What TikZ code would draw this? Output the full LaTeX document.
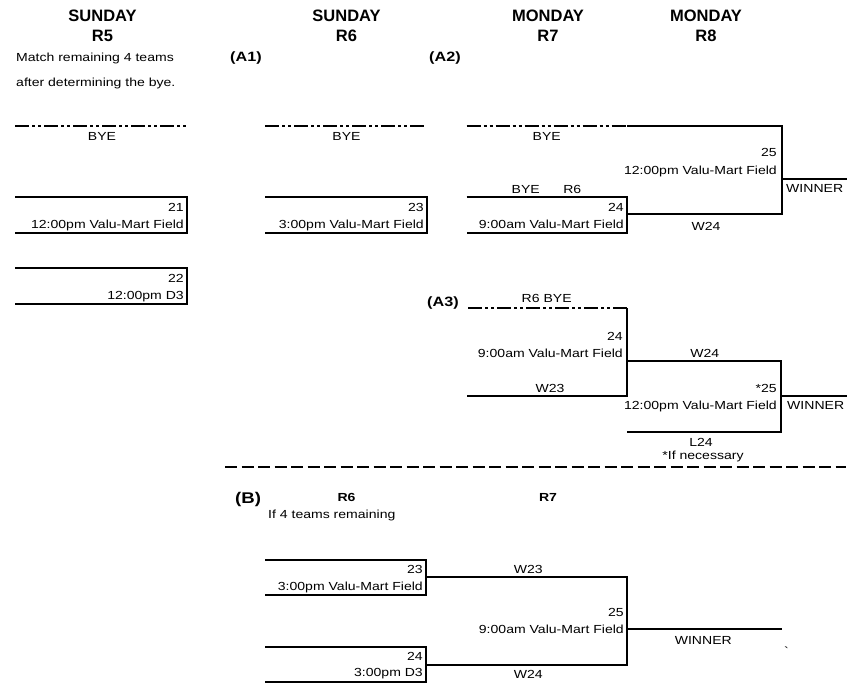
\documentclass[tikz,border=0pt]{standalone}
\usepackage{fontspec}
\setmainfont{Liberation Sans}
\newfontfamily\wide[FakeStretch=1.2]{Liberation Sans}
\begin{document}
\begin{tikzpicture}[x=1pt,y=-1pt]
\tikzset{
  ln/.style={line width=2.1pt},
  dd/.style={line width=2.1pt, dash pattern=on 14pt off 3pt on 3pt off 3pt on 3pt off 3pt},
  sepline/.style={line width=2.1pt, dash pattern=on 12pt off 4.5pt},
  txt/.style={font={\wide\fontsize{11.7}{14}\selectfont}, inner sep=0pt, anchor=base},
  rt/.style={txt, anchor=base east},
  lt/.style={txt, anchor=base west},
  hdr/.style={font={\bfseries\fontsize{16.5}{18}\selectfont}, inner sep=0pt, anchor=base},
  sec/.style={font={\wide\bfseries\fontsize{13.5}{16}\selectfont}, inner sep=0pt, anchor=base west},
  secb/.style={font={\wide\bfseries\fontsize{15.5}{18}\selectfont}, inner sep=0pt, anchor=base west},
  rnd/.style={font={\wide\bfseries\fontsize{11.7}{14}\selectfont}, inner sep=0pt, anchor=base},
}
\useasboundingbox (0,0) rectangle (857,683);

% ---------- headers ----------
\node[hdr] (h1a) at (102.5,21.7) {SUNDAY};
\node[hdr] (h1b) at (102.5,41.7) {R5};
\node[hdr] (h2a) at (346.5,21.7) {SUNDAY};
\node[hdr] (h2b) at (346.5,41.7) {R6};
\node[hdr] (h3a) at (548,21.7) {MONDAY};
\node[hdr] (h3b) at (548,41.7) {R7};
\node[hdr] (h4a) at (706,21.7) {MONDAY};
\node[hdr] (h4b) at (706,41.7) {R8};
\node[lt] (n1) at (16,61.7) {Match remaining 4 teams};
\node[lt] (n2) at (16,86) {after determining the bye.};
\node[sec] (a1) at (230,61) {(A1)};
\node[sec] (a2) at (429,61) {(A2)};

% ---------- R5 ----------
\coordinate (r5yL) at (15,126);   \coordinate (r5yR) at (187,126);
\draw[dd] (r5yL) -- (r5yR);
\node[txt] (r5bye) at (102,140.7) {BYE};
\coordinate (b21a) at (15,197.3); \coordinate (b21b) at (187,197.3);
\coordinate (b21c) at (187,232.7); \coordinate (b21d) at (15,232.7);
\draw[ln] (b21a) -- (b21b) -- (b21c) -- (b21d);
\node[rt] (t21n) at (184,211.7) {21};
\node[rt] (t21t) at (184,228.7) {12:00pm Valu-Mart Field};
\coordinate (b22a) at (15,268.3); \coordinate (b22b) at (187,268.3);
\coordinate (b22c) at (187,303.7); \coordinate (b22d) at (15,303.7);
\draw[ln] (b22a) -- (b22b) -- (b22c) -- (b22d);
\node[rt] (t22n) at (184,282.7) {22};
\node[rt] (t22t) at (184,299.7) {12:00pm D3};

% ---------- R6 (A1) ----------
\coordinate (r6yL) at (265,126);  \coordinate (r6yR) at (424,126);
\draw[dd] (r6yL) -- (r6yR);
\node[txt] (r6bye) at (346.5,140.7) {BYE};
\coordinate (b23a) at (265,197.3); \coordinate (b23b) at (427,197.3);
\coordinate (b23c) at (427,232.7); \coordinate (b23d) at (265,232.7);
\draw[ln] (b23a) -- (b23b) -- (b23c) -- (b23d);
\node[rt] (t23n) at (424,211.7) {23};
\node[rt] (t23t) at (424,228.7) {3:00pm Valu-Mart Field};

% ---------- (A2) ----------
\coordinate (a2yL) at (466.7,126); \coordinate (a2yM) at (627,126);
\coordinate (a2yR) at (782,126);   \coordinate (a2v) at (782,214.3);
\coordinate (a2w) at (627,214.3);
\draw[dd] (a2yL) -- (a2yM);
\draw[ln] (a2yM) -- (a2yR) -- (a2v) -- (a2w);
\coordinate (b24a) at (466.7,197.3); \coordinate (b24b) at (627,197.3);
\coordinate (b24c) at (627,232.7);   \coordinate (b24d) at (466.7,232.7);
\draw[ln] (b24a) -- (b24b) -- (b24c) -- (b24d);
\coordinate (a2wL) at (782,179); \coordinate (a2wR) at (847,179);
\draw[ln] (a2wL) -- (a2wR);
\node[txt] (a2bye) at (546.7,140.7) {BYE};
\node[txt] (a2byer6) at (546.5,193.3) {BYE\hspace{23.5pt}R6};
\node[rt] (a2t24n) at (624,211.7) {24};
\node[rt] (a2t24t) at (624,228.7) {9:00am Valu-Mart Field};
\node[rt] (a2t25n) at (777,156) {25};
\node[rt] (a2t25t) at (777,174) {12:00pm Valu-Mart Field};
\node[lt] (a2win) at (786,192.7) {WINNER};
\node[txt] (a2w24) at (706,230.7) {W24};

% ---------- (A3) ----------
\node[sec] (a3) at (427,306) {(A3)};
\node[txt] (a3bye) at (546.7,302.7) {R6 BYE};
\coordinate (a3yL) at (468,308.3); \coordinate (a3yR) at (627,308.3);
\coordinate (a3v) at (627,396);    \coordinate (a3wL) at (466.7,396);
\draw[dd] (a3yL) -- (a3yR);
\draw[ln] (a3yR) -- (a3v) -- (a3wL);
\node[rt] (a3t24n) at (623,340) {24};
\node[rt] (a3t24t) at (623,357) {9:00am Valu-Mart Field};
\node[txt] (a3w23) at (550,392.7) {W23};
\coordinate (a3p) at (627,360.7); \coordinate (a3q) at (781,360.7);
\coordinate (a3r) at (781,432.3); \coordinate (a3s) at (627,432.3);
\draw[ln] (a3p) -- (a3q) -- (a3r) -- (a3s);
\node[txt] (a3w24) at (704.7,357.3) {W24};
\node[rt] (a3t25n) at (777,392.7) {*25};
\node[rt] (a3t25t) at (777,409.3) {12:00pm Valu-Mart Field};
\coordinate (a3winL) at (781,396); \coordinate (a3winR) at (847,396);
\draw[ln] (a3winL) -- (a3winR);
\node[lt] (a3win) at (787,409.3) {WINNER};
\node[txt] (a3l24) at (701,446) {L24};
\node[txt] (a3nec) at (703,459) {*If necessary};

% ---------- separator ----------
\coordinate (sepL) at (225,467); \coordinate (sepR) at (846,467);
\draw[sepline] (sepL) -- (sepR);

% ---------- (B) ----------
\node[secb] (bb) at (235,503) {(B)};
\node[rnd] (br6) at (346.5,501.7) {R6};
\node[rnd] (br7) at (548,501.7) {R7};
\node[lt] (bif) at (268,518.3) {If 4 teams remaining};
\coordinate (bb23a) at (265,560); \coordinate (bb23b) at (426,560);
\coordinate (bb23c) at (426,594.7); \coordinate (bb23d) at (265,594.7);
\draw[ln] (bb23a) -- (bb23b) -- (bb23c) -- (bb23d);
\node[rt] (bt23n) at (423,573.3) {23};
\node[rt] (bt23t) at (423,590) {3:00pm Valu-Mart Field};
\coordinate (bk1) at (426,577); \coordinate (bk2) at (627,577);
\coordinate (bk3) at (627,665); \coordinate (bk4) at (426,665);
\draw[ln] (bk1) -- (bk2) -- (bk3) -- (bk4);
\coordinate (bb24a) at (265,647); \coordinate (bb24b) at (426,647);
\coordinate (bb24c) at (426,682.3); \coordinate (bb24d) at (265,682.3);
\draw[ln] (bb24a) -- (bb24b) -- (bb24c) -- (bb24d);
\node[rt] (bt24n) at (423,660.3) {24};
\node[rt] (bt24t) at (423,676.7) {3:00pm D3};
\node[txt] (bw23) at (528.3,573.3) {W23};
\node[txt] (bw24) at (528.3,678.3) {W24};
\node[rt] (bt25n) at (624,616) {25};
\node[rt] (bt25t) at (624,633.3) {9:00am Valu-Mart Field};
\coordinate (bwinL) at (627,629.3); \coordinate (bwinR) at (781.7,629.3);
\draw[ln] (bwinL) -- (bwinR);
\node[txt] (bwin) at (703.3,644) {WINNER};
\node[txt] (btick) at (786,655) {\textasciigrave};
\end{tikzpicture}
\end{document}
